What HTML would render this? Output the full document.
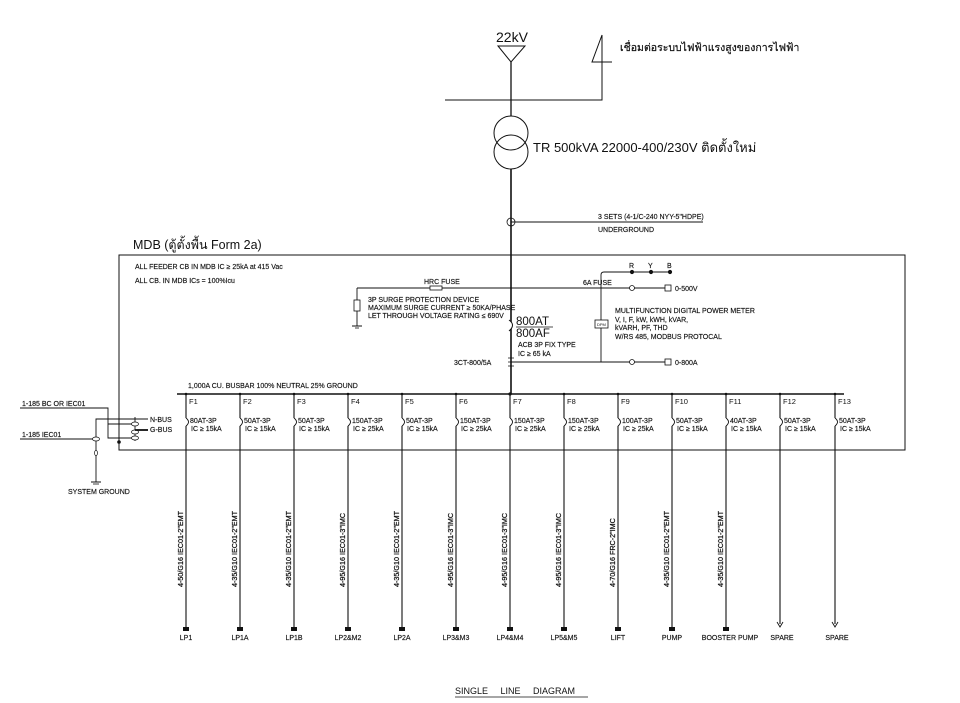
<!DOCTYPE html>
<html><head><meta charset="utf-8"><style>
html,body{margin:0;padding:0;background:#fff;}
svg{display:block;}
text{font-family:"Liberation Sans","DejaVu Sans",sans-serif;fill:#111;}
.s{font-size:7px;stroke:#111;stroke-width:0.15px;}
.c{font-size:7.2px;stroke:#111;stroke-width:0.25px;}
.m{font-size:7.5px;}
</style></head><body>
<svg width="960" height="703" viewBox="0 0 960 703" xmlns="http://www.w3.org/2000/svg" stroke="#111" fill="none">
<!-- top incoming -->
<text x="496" y="42" font-size="14" stroke="none">22kV</text>
<polygon points="498,46 525,46 511,62" stroke-width="1"/>
<line x1="511" y1="62" x2="511" y2="116" stroke-width="1.3"/>
<polyline points="445,100 602,100 602,35 592,62 612,62" stroke-width="1"/>
<text x="620" y="51" font-size="10.5" stroke="#111" stroke-width="0.2" style="font-family:'Liberation Sans','Noto Sans CJK SC',sans-serif">เชื่อมต่อระบบไฟฟ้าแรงสูงของการไฟฟ้า</text>
<!-- transformer -->
<circle cx="511" cy="133" r="17" stroke-width="1"/>
<circle cx="511" cy="152" r="17" stroke-width="1"/>
<text x="533" y="152" font-size="13" stroke="none">TR 500kVA 22000-400/230V ติดตั้งใหม่</text>
<line x1="511" y1="169" x2="511" y2="394" stroke-width="1.6"/>
<ellipse cx="511" cy="222" rx="4" ry="4" stroke-width="0.8"/>
<line x1="511" y1="222" x2="703" y2="222" stroke-width="0.9"/>
<text x="598" y="219" class="s">3 SETS (4-1/C-240 NYY-5"HDPE)</text>
<text x="598" y="232" class="s">UNDERGROUND</text>
<!-- MDB box -->
<text x="133" y="249" font-size="12.5" stroke="none">MDB (ตู้ตั้งพื้น Form 2a)</text>
<rect x="119" y="255" width="786" height="195" stroke-width="1"/>
<text x="135" y="269" class="s">ALL FEEDER CB IN MDB IC ≥ 25kA at 415 Vac</text>
<text x="135" y="283" class="s">ALL CB. IN MDB ICs = 100%Icu</text>
<!-- HRC fuse / SPD -->
<text x="424" y="284" class="s">HRC FUSE</text>
<line x1="357" y1="288" x2="601" y2="288" stroke-width="0.9"/>
<rect x="430" y="286" width="12" height="4" fill="#fff" stroke-width="0.8"/>
<line x1="357" y1="288" x2="357" y2="326" stroke-width="0.9"/>
<rect x="354" y="300" width="6" height="11" fill="#fff" stroke-width="0.8"/>
<line x1="352" y1="326" x2="362" y2="326" stroke-width="1"/>
<line x1="355" y1="328" x2="359" y2="328" stroke-width="0.8"/>
<text x="368" y="302" class="s">3P SURGE PROTECTION DEVICE</text>
<text x="368" y="310" class="s">MAXIMUM SURGE CURRENT ≥ 50KA/PHASE</text>
<text x="368" y="318" class="s">LET THROUGH VOLTAGE RATING ≤ 690V</text>
<!-- ACB -->
<path d="M509,320 Q516,325 509,331" stroke-width="1" fill="#fff"/>
<text x="516" y="325" font-size="11.5" stroke="none">800AT</text>
<line x1="516" y1="327" x2="553" y2="327" stroke-width="0.8"/>
<text x="516" y="337" font-size="11.5" stroke="none">800AF</text>
<text x="518" y="347" class="s">ACB 3P FIX TYPE</text>
<text x="518" y="356" class="s">IC ≥ 65 kA</text>
<text x="454" y="365" class="s">3CT-800/5A</text>
<path d="M508,358 L514,358 M508,362 L514,362 M508,366 L514,366" stroke-width="0.8"/>
<!-- metering -->
<line x1="511" y1="362" x2="665" y2="362" stroke-width="0.9"/>
<line x1="601" y1="275" x2="601" y2="362" stroke-width="0.9"/>
<path d="M601,275 Q601,272 604,272 L670,272" stroke-width="0.9"/>
<circle cx="632" cy="272" r="1.6" fill="#111"/><circle cx="651" cy="272" r="1.6" fill="#111"/><circle cx="670" cy="272" r="1.6" fill="#111"/>
<text x="629" y="268" class="s">R</text><text x="648" y="268" class="s">Y</text><text x="667" y="268" class="s">B</text>
<text x="583" y="285" class="s">6A FUSE</text>
<line x1="601" y1="288" x2="665" y2="288" stroke-width="0.9"/>
<circle cx="632" cy="288" r="2.5" fill="#fff" stroke-width="0.8"/>
<rect x="665" y="285" width="6" height="6" fill="#fff" stroke-width="0.8"/>
<text x="675" y="291" class="s">0-500V</text>
<circle cx="632" cy="362" r="2.5" fill="#fff" stroke-width="0.8"/>
<rect x="665" y="359" width="6" height="6" fill="#fff" stroke-width="0.8"/>
<text x="675" y="365" class="s">0-800A</text>
<rect x="595" y="320" width="13" height="8" fill="#fff" stroke-width="0.8"/>
<text x="597" y="326" font-size="4" stroke="none">DPM</text>
<text x="615" y="313" class="s">MULTIFUNCTION DIGITAL POWER METER</text>
<text x="615" y="322" class="s">V, I, F, kW, kWH, kVAR,</text>
<text x="615" y="330" class="s">kVARH, PF, THD</text>
<text x="615" y="339" class="s">W/RS 485, MODBUS PROTOCAL</text>
<!-- busbar -->
<text x="188" y="388" class="s">1,000A CU. BUSBAR 100% NEUTRAL 25% GROUND</text>
<line x1="177" y1="394" x2="844" y2="394" stroke-width="1.6"/>
<!-- left incoming -->
<text x="22" y="406" class="s">1-185 BC OR IEC01</text>
<polyline points="20,408 108,408 108,438 135,438" stroke-width="0.9"/>
<polyline points="96,482 96,419 148,419" stroke-width="0.9"/>
<line x1="108" y1="424" x2="135" y2="424" stroke-width="0.9"/>
<text x="22" y="437" class="s">1-185 IEC01</text>
<line x1="20" y1="439" x2="96" y2="439" stroke-width="0.9"/>
<ellipse cx="96" cy="439" rx="3.5" ry="2" stroke-width="0.7" fill="#fff"/>
<ellipse cx="96" cy="453" rx="1.5" ry="2.5" stroke-width="0.7" fill="#fff"/>
<line x1="91" y1="482" x2="101" y2="482" stroke-width="1"/>
<line x1="93" y1="484" x2="99" y2="484" stroke-width="0.8"/>
<text x="68" y="494" class="s">SYSTEM GROUND</text>
<line x1="135" y1="417" x2="135" y2="441" stroke-width="0.9"/>
<ellipse cx="135" cy="424" rx="3.5" ry="2" stroke-width="0.7" fill="#fff"/>
<ellipse cx="135" cy="432" rx="3.5" ry="2" stroke-width="0.7" fill="#fff"/>
<ellipse cx="135" cy="438" rx="3.5" ry="2" stroke-width="0.7" fill="#fff"/>
<line x1="135" y1="430" x2="148" y2="430" stroke-width="1.8"/>
<circle cx="119" cy="442" r="1.3" fill="#111"/>
<text x="150" y="422" class="s">N-BUS</text>
<text x="150" y="432" class="s">G-BUS</text>
<!-- feeders -->
<g stroke-width="1.1">
<line x1="186" y1="394" x2="186" y2="418"/><line x1="186" y1="426" x2="186" y2="628"/>
<line x1="240" y1="394" x2="240" y2="418"/><line x1="240" y1="426" x2="240" y2="628"/>
<line x1="294" y1="394" x2="294" y2="418"/><line x1="294" y1="426" x2="294" y2="628"/>
<line x1="348" y1="394" x2="348" y2="418"/><line x1="348" y1="426" x2="348" y2="628"/>
<line x1="402" y1="394" x2="402" y2="418"/><line x1="402" y1="426" x2="402" y2="628"/>
<line x1="456" y1="394" x2="456" y2="418"/><line x1="456" y1="426" x2="456" y2="628"/>
<line x1="510" y1="394" x2="510" y2="418"/><line x1="510" y1="426" x2="510" y2="628"/>
<line x1="564" y1="394" x2="564" y2="418"/><line x1="564" y1="426" x2="564" y2="628"/>
<line x1="618" y1="394" x2="618" y2="418"/><line x1="618" y1="426" x2="618" y2="628"/>
<line x1="672" y1="394" x2="672" y2="418"/><line x1="672" y1="426" x2="672" y2="628"/>
<line x1="726" y1="394" x2="726" y2="418"/><line x1="726" y1="426" x2="726" y2="628"/>
<line x1="780" y1="394" x2="780" y2="418"/><line x1="780" y1="426" x2="780" y2="624"/>
<line x1="835" y1="394" x2="835" y2="418"/><line x1="835" y1="426" x2="835" y2="624"/>
</g>
<g stroke-width="0.9">
<path d="M186,418 Q191,422 186,426"/><path d="M240,418 Q245,422 240,426"/><path d="M294,418 Q299,422 294,426"/>
<path d="M348,418 Q353,422 348,426"/><path d="M402,418 Q407,422 402,426"/><path d="M456,418 Q461,422 456,426"/>
<path d="M510,418 Q515,422 510,426"/><path d="M564,418 Q569,422 564,426"/><path d="M618,418 Q623,422 618,426"/>
<path d="M672,418 Q677,422 672,426"/><path d="M726,418 Q731,422 726,426"/><path d="M780,418 Q785,422 780,426"/>
<path d="M835,418 Q840,422 835,426"/>
<path d="M777,622 L780,627 L783,622"/><path d="M832,622 L835,627 L838,622"/>
</g>
<g stroke="none">
<circle cx="186" cy="394" r="1.3" fill="#111"/><circle cx="240" cy="394" r="1.3" fill="#111"/><circle cx="294" cy="394" r="1.3" fill="#111"/><circle cx="348" cy="394" r="1.3" fill="#111"/><circle cx="402" cy="394" r="1.3" fill="#111"/><circle cx="456" cy="394" r="1.3" fill="#111"/><circle cx="510" cy="394" r="1.6" fill="#111"/><circle cx="564" cy="394" r="1.3" fill="#111"/><circle cx="618" cy="394" r="1.3" fill="#111"/><circle cx="672" cy="394" r="1.3" fill="#111"/><circle cx="726" cy="394" r="1.3" fill="#111"/><circle cx="780" cy="394" r="1.3" fill="#111"/><circle cx="835" cy="394" r="1.3" fill="#111"/>
<rect x="183" y="627" width="6" height="4" fill="#111"/><rect x="237" y="627" width="6" height="4" fill="#111"/><rect x="291" y="627" width="6" height="4" fill="#111"/><rect x="345" y="627" width="6" height="4" fill="#111"/><rect x="399" y="627" width="6" height="4" fill="#111"/><rect x="453" y="627" width="6" height="4" fill="#111"/><rect x="507" y="627" width="6" height="4" fill="#111"/><rect x="561" y="627" width="6" height="4" fill="#111"/><rect x="615" y="627" width="6" height="4" fill="#111"/><rect x="669" y="627" width="6" height="4" fill="#111"/><rect x="723" y="627" width="6" height="4" fill="#111"/>
</g>
<g class="m" stroke="none">
<text x="189" y="404">F1</text><text x="243" y="404">F2</text><text x="297" y="404">F3</text><text x="351" y="404">F4</text><text x="405" y="404">F5</text><text x="459" y="404">F6</text><text x="513" y="404">F7</text><text x="567" y="404">F8</text><text x="621" y="404">F9</text><text x="675" y="404">F10</text><text x="729" y="404">F11</text><text x="783" y="404">F12</text><text x="838" y="404">F13</text>
</g>
<g class="s">
<text x="190" y="423">80AT-3P</text><text x="191" y="431">IC ≥ 15kA</text>
<text x="244" y="423">50AT-3P</text><text x="245" y="431">IC ≥ 15kA</text>
<text x="298" y="423">50AT-3P</text><text x="299" y="431">IC ≥ 15kA</text>
<text x="352" y="423">150AT-3P</text><text x="353" y="431">IC ≥ 25kA</text>
<text x="406" y="423">50AT-3P</text><text x="407" y="431">IC ≥ 15kA</text>
<text x="460" y="423">150AT-3P</text><text x="461" y="431">IC ≥ 25kA</text>
<text x="514" y="423">150AT-3P</text><text x="515" y="431">IC ≥ 25kA</text>
<text x="568" y="423">150AT-3P</text><text x="569" y="431">IC ≥ 25kA</text>
<text x="622" y="423">100AT-3P</text><text x="623" y="431">IC ≥ 25kA</text>
<text x="676" y="423">50AT-3P</text><text x="677" y="431">IC ≥ 15kA</text>
<text x="730" y="423">40AT-3P</text><text x="731" y="431">IC ≥ 15kA</text>
<text x="784" y="423">50AT-3P</text><text x="785" y="431">IC ≥ 15kA</text>
<text x="839" y="423">50AT-3P</text><text x="840" y="431">IC ≥ 15kA</text>
</g>
<g class="c">
<text transform="translate(183,587) rotate(-90)">4-50/G16 IEC01-2"EMT</text>
<text transform="translate(237,587) rotate(-90)">4-35/G10 IEC01-2"EMT</text>
<text transform="translate(291,587) rotate(-90)">4-35/G10 IEC01-2"EMT</text>
<text transform="translate(345,587) rotate(-90)">4-95/G16 IEC01-3"IMC</text>
<text transform="translate(399,587) rotate(-90)">4-35/G10 IEC01-2"EMT</text>
<text transform="translate(453,587) rotate(-90)">4-95/G16 IEC01-3"IMC</text>
<text transform="translate(507,587) rotate(-90)">4-95/G16 IEC01-3"IMC</text>
<text transform="translate(561,587) rotate(-90)">4-95/G16 IEC01-3"IMC</text>
<text transform="translate(615,587) rotate(-90)">4-70/G16 FRC-2"IMC</text>
<text transform="translate(669,587) rotate(-90)">4-35/G10 IEC01-2"EMT</text>
<text transform="translate(723,587) rotate(-90)">4-35/G10 IEC01-2"EMT</text>
</g>
<g class="s" text-anchor="middle">
<text x="186" y="640">LP1</text><text x="240" y="640">LP1A</text><text x="294" y="640">LP1B</text><text x="348" y="640">LP2&amp;M2</text><text x="402" y="640">LP2A</text><text x="456" y="640">LP3&amp;M3</text><text x="510" y="640">LP4&amp;M4</text><text x="564" y="640">LP5&amp;M5</text><text x="618" y="640">LIFT</text><text x="672" y="640">PUMP</text><text x="730" y="640">BOOSTER PUMP</text><text x="782" y="640">SPARE</text><text x="837" y="640">SPARE</text>
</g>
<text x="455" y="694" font-size="9" stroke="none" style="word-spacing:10px">SINGLE LINE DIAGRAM</text>
<line x1="455" y1="697" x2="588" y2="697" stroke-width="0.8"/>
</svg>
</body></html>
